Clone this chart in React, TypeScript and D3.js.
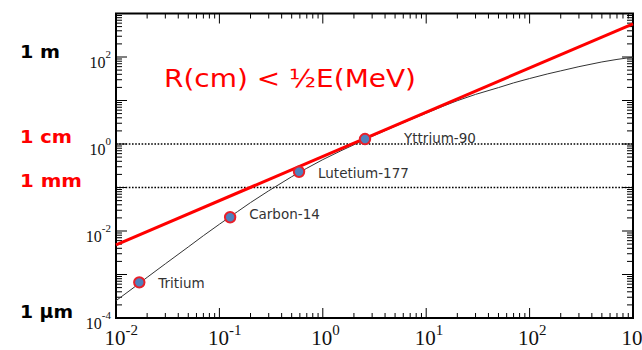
import React from 'react';
import * as d3 from 'd3';

// Black curve: electron range in water
const curveEnergy = [0.01, 0.015, 0.02, 0.03, 0.05, 0.07, 0.1, 0.15, 0.2, 0.3, 0.5, 0.7, 1, 1.5, 2, 3, 5, 7, 10, 15, 20, 30, 50, 70, 100, 150, 200, 300, 500, 700, 1000];
const curveRange = [2.5e-4, 5.1e-4, 8.6e-4, 1.76e-3, 4.3e-3, 7.8e-3, 1.43e-2, 2.8e-2, 4.5e-2, 8.4e-2, 0.177, 0.277, 0.437, 0.7, 0.96, 1.5, 2.55, 3.6, 5.1, 7.6, 9.9, 13.8, 19.8, 25.4, 32, 41, 48, 60, 77, 88, 99];

// Red rule-of-thumb line R(cm) < 1/2 E(MeV)
const ruleEnergy = [0.01, 1000];
const ruleRange = [0.0048, 580];

// Isotopes
const isoNames = ['Tritium', 'Carbon-14', 'Lutetium-177', 'Yttrium-90'];
const isoEnergy = [0.0168, 0.127, 0.589, 2.56];
const isoRange = [6.6e-4, 0.0207, 0.23, 1.3];

// Axis labels
const xExponents = [-2, -1, 0, 1, 2, 3];
const yExponents = [2, 0, -2, -4];
const refLines = [1, 0.1];
const sideLabels = [
  { text: '1 m', value: 100, color: '#000', len: 40 },
  { text: '1 cm', value: 1, color: '#ff0000', len: 52 },
  { text: '1 mm', value: 0.1, color: '#ff0000', len: 62 },
  { text: '1 μm', value: 1e-4, color: '#000', len: 53 },
];

const W = 642, H = 350;
const L = 116, R = 633, T = 13.5, B = 318;

export default function App() {
  const x = d3.scaleLog().domain([0.01, 1000]).range([L, R]);
  const y = d3.scaleLog().domain([1e-4, 1000]).range([B, T]);

  const curveLine = d3.line<number>().x((_, i) => x(curveEnergy[i])).y((_, i) => y(curveRange[i]));
  const ruleLine = d3.line<number>().x((_, i) => x(ruleEnergy[i])).y((_, i) => y(ruleRange[i]));

  const xTicks: { v: number; major: boolean }[] = [];
  for (let e = -2; e <= 3; e++) {
    for (let m = 1; m <= 9; m++) {
      const v = m * Math.pow(10, e);
      if (v > 1000 * 1.0001) break;
      xTicks.push({ v, major: m === 1 });
    }
  }
  const yTicks: { v: number; major: boolean }[] = [];
  for (let e = -4; e <= 3; e++) {
    for (let m = 1; m <= 9; m++) {
      const v = m * Math.pow(10, e);
      if (v > 1000 * 1.0001) break;
      yTicks.push({ v, major: m === 1 });
    }
  }

  const labelDx: Record<string, number> = { 'Yttrium-90': 39 };
  const labelDy: Record<string, number> = { 'Yttrium-90': 4, 'Carbon-14': 2 };

  return (
    <svg width={W} height={H} style={{ position: 'absolute', left: 0, top: 0, background: '#fff' }}>
      <rect x={0} y={0} width={W} height={H} fill="#fff" />
      {/* reference dotted lines */}
      {refLines.map((v) => (
        <line key={v} x1={L} x2={R} y1={y(v)} y2={y(v)} stroke="#000" strokeWidth={1.6} strokeDasharray="1.6,1.6" />
      ))}
      {/* ticks */}
      {xTicks.map((t, i) => (
        <g key={'xt' + i}>
          <line x1={x(t.v)} x2={x(t.v)} y1={B} y2={B - (t.major ? 10 : 5)} stroke="#000" strokeWidth={1} />
          <line x1={x(t.v)} x2={x(t.v)} y1={T} y2={T + (t.major ? 10 : 5)} stroke="#000" strokeWidth={1} />
        </g>
      ))}
      {yTicks.map((t, i) => (
        <g key={'yt' + i}>
          <line x1={L} x2={L + (t.major ? 11 : 6)} y1={y(t.v)} y2={y(t.v)} stroke="#000" strokeWidth={1} />
          <line x1={R} x2={R - (t.major ? 11 : 6)} y1={y(t.v)} y2={y(t.v)} stroke="#000" strokeWidth={1} />
        </g>
      ))}
      {/* frame */}
      <rect x={L} y={T} width={R - L} height={B - T} fill="none" stroke="#000" strokeWidth={2} />
      {/* x labels */}
      {xExponents.map((e) => {
        const tx = x(Math.pow(10, e));
        return (
          <text key={'xl' + e} x={tx - 11.5} y={345} fontFamily="Liberation Serif, serif" fontSize={21} fill="#111">
            10<tspan fontSize={15} dy={-10}>{String(e)}</tspan>
          </text>
        );
      })}
      {/* y labels */}
      {yExponents.map((e) => {
        const ty = y(Math.pow(10, e));
        return (
          <text key={'yl' + e} x={111} y={ty + 11} textAnchor="end" fontFamily="Liberation Serif, serif" fontSize={16} fill="#111">
            10<tspan fontSize={11} dy={-10}>{String(e)}</tspan>
          </text>
        );
      })}
      {/* side labels */}
      {sideLabels.map((s) => (
        <text key={s.text} x={20} y={s.value === 100 ? 58 : s.value === 1e-4 ? 318 : y(s.value) - 1} fontFamily="DejaVu Sans, sans-serif" fontWeight="bold" fontSize={18.5} fill={s.color} textLength={s.len} lengthAdjust="spacingAndGlyphs">
          {s.text}
        </text>
      ))}
      {/* curve */}
      <path d={curveLine(curveEnergy) || ''} fill="none" stroke="#333" strokeWidth={1} />
      {/* rule line */}
      <path d={ruleLine(ruleEnergy) || ''} fill="none" stroke="#ff0000" strokeWidth={3} />
      {/* title */}
      <text x={164} y={87} fontFamily="DejaVu Sans, sans-serif" fontSize={24} fill="#ff0000" textLength={252} lengthAdjust="spacingAndGlyphs">
        R(cm) &lt; ½E(MeV)
      </text>
      {/* isotopes */}
      {isoNames.map((n, i) => (
        <g key={n}>
          <circle cx={x(isoEnergy[i])} cy={y(isoRange[i])} r={5.2} fill="#4f81bd" stroke="#e8202a" strokeWidth={2} />
          <text x={x(isoEnergy[i]) + (labelDx[n] ?? 19)} y={y(isoRange[i]) + (labelDy[n] ?? 6)} fontFamily="DejaVu Sans, sans-serif" fontSize={13.5} fill="#333">
            {n}
          </text>
        </g>
      ))}
    </svg>
  );
}
